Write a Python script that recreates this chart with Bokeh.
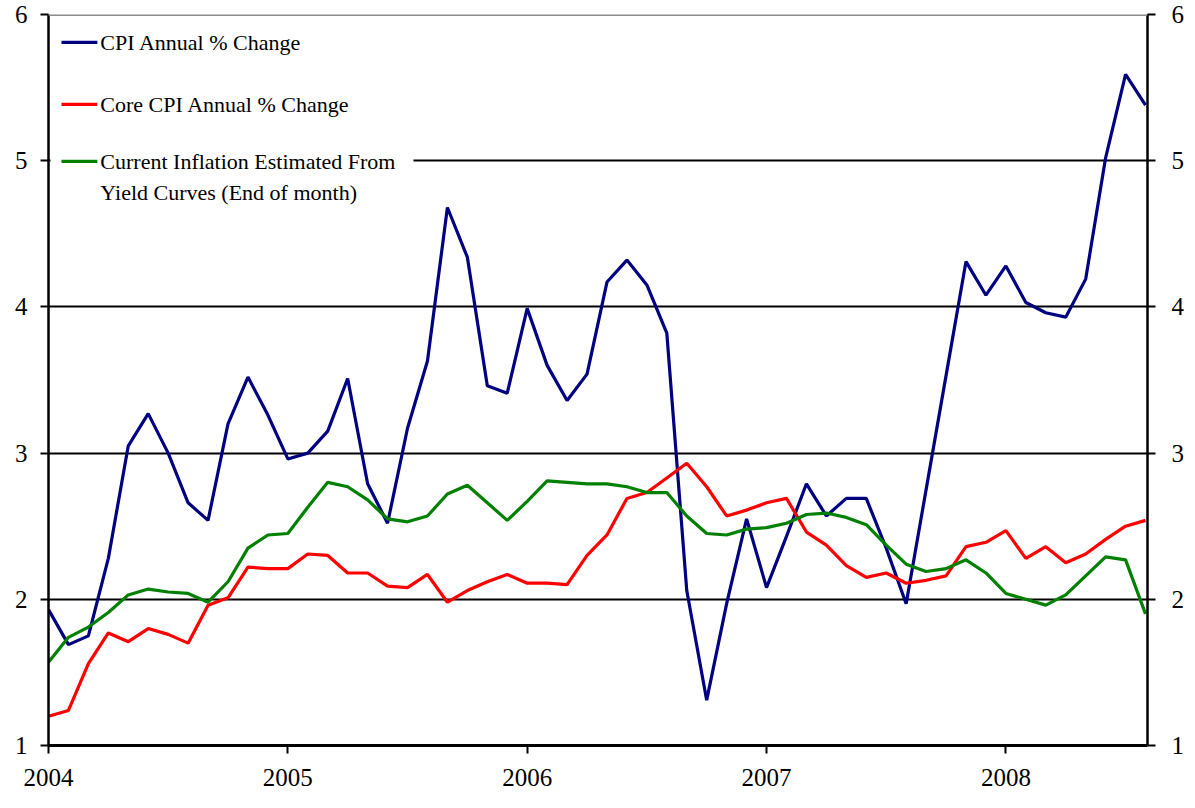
from bokeh.plotting import figure
from bokeh.models import (Range1d, LinearAxis, FixedTicker, Span, Label,
                          BoxAnnotation)
from bokeh.embed import file_html
from bokeh.resources import INLINE

# ---- data (monthly, Jan 2004 .. Aug 2008) ----
year_labels = ["2004", "2005", "2006", "2007", "2008"]
months = list(range(56))

cpi = [1.93, 1.69, 1.75, 2.28, 3.05, 3.27, 3.00, 2.66, 2.54, 3.20, 3.52, 3.26,
       2.96, 3.00, 3.15, 3.51, 2.79, 2.52, 3.17, 3.63, 4.68, 4.34, 3.46, 3.41,
       3.99, 3.60, 3.36, 3.54, 4.17, 4.32, 4.15, 3.82, 2.06, 1.31, 1.97, 2.55,
       2.08, 2.43, 2.79, 2.57, 2.69, 2.69, 2.35, 1.97, 2.75, 3.53, 4.31, 4.08,
       4.28, 4.03, 3.96, 3.93, 4.19, 5.02, 5.59, 5.38]

core_cpi = [1.20, 1.24, 1.56, 1.77, 1.71, 1.80, 1.76, 1.70, 1.96, 2.01, 2.22, 2.21,
            2.21, 2.31, 2.30, 2.18, 2.18, 2.09, 2.08, 2.17, 1.98, 2.06, 2.12, 2.17,
            2.11, 2.11, 2.10, 2.30, 2.44, 2.69, 2.73, 2.83, 2.93, 2.77, 2.57, 2.61,
            2.66, 2.69, 2.46, 2.37, 2.23, 2.15, 2.18, 2.11, 2.13, 2.16, 2.36, 2.39,
            2.47, 2.28, 2.36, 2.25, 2.31, 2.41, 2.50, 2.54]

yield_infl = [1.57, 1.74, 1.81, 1.91, 2.03, 2.07, 2.05, 2.04, 1.98, 2.12, 2.35, 2.44,
              2.45, 2.63, 2.80, 2.77, 2.68, 2.55, 2.53, 2.57, 2.72, 2.78, 2.66, 2.54,
              2.67, 2.81, 2.80, 2.79, 2.79, 2.77, 2.73, 2.73, 2.57, 2.45, 2.44, 2.48,
              2.49, 2.52, 2.58, 2.59, 2.56, 2.51, 2.37, 2.24, 2.19, 2.21, 2.27, 2.18,
              2.04, 2.00, 1.96, 2.03, 2.16, 2.29, 2.27, 1.90]

series_names = ["CPI Annual % Change",
                "Core CPI Annual % Change",
                "Current Inflation Estimated From",
                "Yield Curves (End of month)"]
colors = ["#000080", "#FF0000", "#008000"]

FONT = "Liberation Serif"

p = figure(width=1187, height=800, output_backend="svg", toolbar_location=None,
           x_range=Range1d(0, 55.1), y_range=Range1d(1, 6),
           min_border_left=48, min_border_right=40, min_border_top=14,
           min_border_bottom=55, background_fill_color="white",
           border_fill_color="white")
p.outline_line_color = None

# grid
p.xgrid.visible = False
p.ygrid.ticker = FixedTicker(ticks=[2, 3, 4, 5])
p.ygrid.grid_line_color = "black"
p.ygrid.grid_line_width = 2

# top border (gray)
p.add_layout(Span(location=6, dimension="width", line_color="#8c8c8c",
                  line_width=3))

# axes
def style_axis(ax):
    ax.axis_line_color = "black"
    ax.axis_line_width = 2.5
    ax.major_tick_line_color = "black"
    ax.major_tick_line_width = 2
    ax.major_tick_out = 8
    ax.major_tick_in = 0
    ax.minor_tick_line_color = None
    ax.major_label_text_font = FONT
    ax.major_label_text_font_size = "25px"
    ax.major_label_text_color = "black"

yax = p.yaxis[0]
yax.ticker = FixedTicker(ticks=[1, 2, 3, 4, 5, 6])
style_axis(yax)
yax.major_label_standoff = 13

rax = LinearAxis(ticker=FixedTicker(ticks=[1, 2, 3, 4, 5, 6]))
style_axis(rax)
rax.major_label_standoff = 16
p.add_layout(rax, "right")

xax = p.xaxis[0]
xax.ticker = FixedTicker(ticks=[0, 12, 24, 36, 48])
xax.major_label_overrides = {i * 12: lab for i, lab in enumerate(year_labels)}
style_axis(xax)
xax.axis_line_width = 3
xax.major_label_standoff = 15

# legend background hiding the gridline under the third entry
p.add_layout(BoxAnnotation(left=0.1, right=18.3, bottom=4.72, top=5.12,
                           fill_color="white", fill_alpha=1.0,
                           line_color=None, level="underlay"))

# data lines
for ys, c in zip([cpi, core_cpi, yield_infl], colors):
    p.line(months, ys, line_color=c, line_width=3.2)

# manual legend
leg_y = [5.81, 5.385, 4.995]
for yy, c in zip(leg_y, colors):
    p.segment(x0=[0.65], y0=[yy], x1=[2.45], y1=[yy], line_color=c,
              line_width=3.2)

text_rows = [(leg_y[0], series_names[0]), (leg_y[1], series_names[1]),
             (leg_y[2], series_names[2]), (4.785, series_names[3])]
for yy, t in text_rows:
    p.add_layout(Label(x=2.6, y=yy, text=t, text_font=FONT,
                       text_font_size="22px", text_color="black",
                       text_baseline="middle", text_align="left"))

open("out.html", "w").write(file_html(p, INLINE))
